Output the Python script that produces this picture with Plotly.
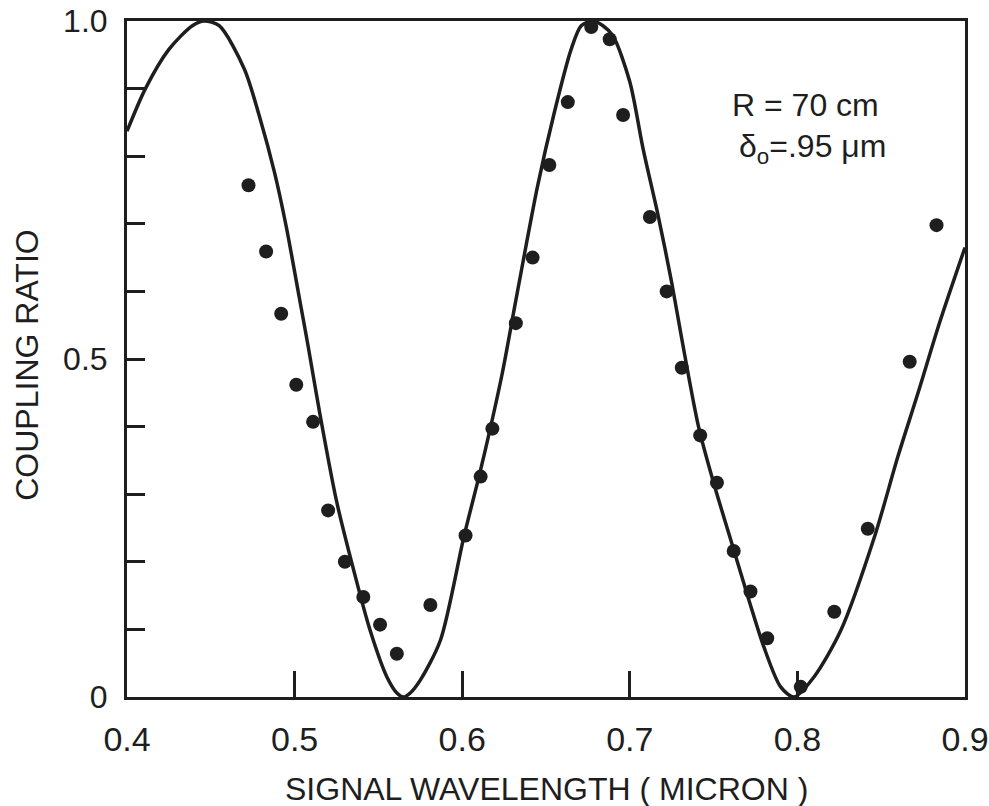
import plotly.graph_objects as go

# Theory curve
curve_wl = [0.400, 0.411, 0.425, 0.439, 0.446, 0.455, 0.470, 0.479, 0.488, 0.495,
            0.503, 0.508, 0.515, 0.525, 0.535, 0.545, 0.555, 0.561, 0.565, 0.569,
            0.575, 0.587, 0.601, 0.610, 0.617, 0.624, 0.633, 0.645, 0.655, 0.665,
            0.671, 0.678, 0.684, 0.690, 0.700, 0.708, 0.717, 0.725, 0.731, 0.741,
            0.750, 0.762, 0.771, 0.780, 0.790, 0.798, 0.810, 0.826, 0.846, 0.860,
            0.872, 0.885, 0.900]
curve_ratio = [0.837, 0.900, 0.958, 0.993, 1.000, 0.993, 0.929, 0.859, 0.776, 0.696,
               0.588, 0.520, 0.420, 0.290, 0.190, 0.099, 0.030, 0.006, 0.000, 0.006,
               0.025, 0.084, 0.237, 0.326, 0.400, 0.480, 0.600, 0.756, 0.865, 0.958,
               0.993, 1.000, 0.993, 0.978, 0.910, 0.810, 0.711, 0.613, 0.530, 0.400,
               0.317, 0.218, 0.144, 0.074, 0.015, 0.000, 0.030, 0.099, 0.237, 0.356,
               0.450, 0.555, 0.665]

# Measured points
meas_wl = [0.4725, 0.483, 0.492, 0.501, 0.511, 0.520, 0.530, 0.541, 0.551, 0.561,
           0.581, 0.602, 0.611, 0.618, 0.632, 0.642, 0.652, 0.663, 0.677, 0.688,
           0.696, 0.712, 0.722, 0.731, 0.742, 0.752, 0.762, 0.772, 0.782, 0.802,
           0.822, 0.842, 0.867, 0.883]
meas_ratio = [0.757, 0.659, 0.567, 0.462, 0.407, 0.276, 0.200, 0.148, 0.107, 0.064,
              0.136, 0.239, 0.326, 0.397, 0.553, 0.650, 0.787, 0.880, 0.991, 0.973,
              0.861, 0.710, 0.600, 0.487, 0.387, 0.317, 0.216, 0.156, 0.087, 0.015,
              0.126, 0.249, 0.496, 0.698]

x_tickvals = [0.4, 0.5, 0.6, 0.7, 0.8, 0.9]
x_ticktext = ["0.4", "0.5", "0.6", "0.7", "0.8", "0.9"]
y_tickvals = [0.0, 0.1, 0.2, 0.3, 0.4, 0.5, 0.6, 0.7, 0.8, 0.9, 1.0]
y_ticktext = ["0", "", "", "", "", "0.5", "", "", "", "", "1.0"]

INK = "#1e1e1e"
FONT = "Liberation Sans, Arial, sans-serif"

fig = go.Figure()
fig.add_trace(go.Scatter(x=curve_wl, y=curve_ratio, mode="lines",
                         line=dict(color=INK, width=3.5, shape="spline", smoothing=0.8),
                         showlegend=False, cliponaxis=True))
fig.add_trace(go.Scatter(x=meas_wl, y=meas_ratio, mode="markers",
                         marker=dict(color=INK, size=14),
                         showlegend=False, cliponaxis=False))

fig.update_layout(
    width=989, height=806,
    margin=dict(l=127, r=24, t=21, b=109, autoexpand=False),
    paper_bgcolor="white", plot_bgcolor="white",
    font=dict(family=FONT, color=INK),
    xaxis=dict(range=[0.4, 0.9], tickvals=x_tickvals, ticktext=x_ticktext,
               ticks="inside", ticklen=26, tickwidth=2.5, tickcolor=INK,
               showline=True, linewidth=3, linecolor=INK, mirror=True,
               showgrid=False, zeroline=False, automargin=False,
               tickfont=dict(size=34, family=FONT, color=INK),
               ticklabelstandoff=10),
    yaxis=dict(range=[0, 1], tickvals=y_tickvals, ticktext=y_ticktext,
               ticks="inside", ticklen=18, tickwidth=2.5, tickcolor=INK,
               showline=True, linewidth=3, linecolor=INK, mirror=True,
               showgrid=False, zeroline=False, automargin=False,
               tickfont=dict(size=32, family=FONT, color=INK),
               ticklabelstandoff=10),
    annotations=[
        dict(text="SIGNAL WAVELENGTH ( MICRON )", xref="paper", yref="paper",
             x=0.5, y=0, yshift=-92, xanchor="center", yanchor="middle",
             showarrow=False, font=dict(size=32, family=FONT, color=INK)),
        dict(text="COUPLING RATIO", xref="paper", yref="paper",
             x=0, y=0.49, xshift=-100, xanchor="center", yanchor="middle",
             textangle=-90, showarrow=False,
             font=dict(size=32, family=FONT, color=INK)),
        dict(text="R = 70 cm", xref="paper", yref="paper",
             x=(805 - 127) / 838, y=(697 - 105) / 676, xanchor="center", yanchor="middle",
             showarrow=False, font=dict(size=32, family=FONT, color=INK)),
        dict(text="δ<sub>o</sub>=.95 μm", xref="paper", yref="paper",
             x=(812 - 127) / 838, y=(697 - 148) / 676, xanchor="center", yanchor="middle",
             showarrow=False, font=dict(size=32, family=FONT, color=INK)),
    ],
)

fig.write_html("out.html")
